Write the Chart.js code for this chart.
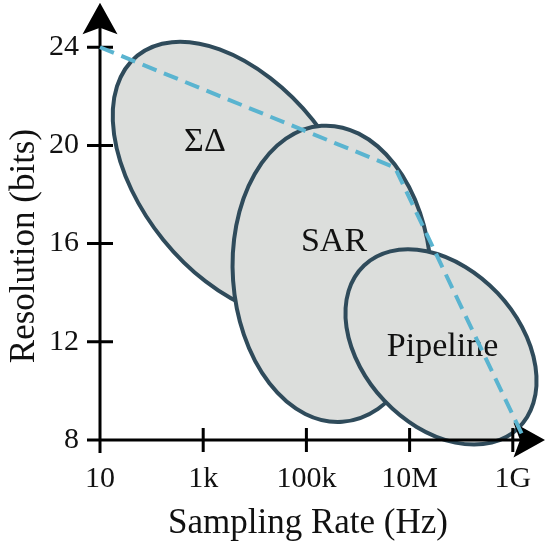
<!DOCTYPE html>
<html lang="en">
<head>
<meta charset="UTF-8">
<title>ADC architectures: resolution vs sampling rate</title>
<script src="https://cdn.jsdelivr.net/npm/chart.js@4"></script>
<style>
  html, body { margin: 0; padding: 0; background: #fff; }
  #wrap { width: 546px; height: 546px; position: relative; }
</style>
</head>
<body>
<div id="wrap"><canvas id="adcChart"></canvas></div>
<script>
// axis ticks
const xTicks = [10, 1e3, 1e5, 1e7, 1e9];
const xTickLabels = ['10', '1k', '100k', '10M', '1G'];
const yTicks = [8, 12, 16, 20, 24];

// ADC regions: ellipse centre and the ends of its two half-axes, in (Hz, bits)
const regionNames = ['ΣΔ', 'SAR', 'Pipeline'];
const regionCenter = [[4725, 18.6], [3.13e5, 14.77], [4.06e7, 11.79]];
const regionMajorEnd = [[53, 23.66], [1.97e5, 20.8], [1.31e6, 15.11]];
const regionMinorEnd = [[1.32e5, 21.05], [2.58e7, 15.05], [5.09e8, 13.98]];
const regionLabelAt = [[1.08e3, 20.14], [3.43e5, 16.05], [4.35e7, 11.77]];

// dashed boundary
const edgeRate = [10, 5.2e6, 1.7e9];
const edgeBits = [24, 19.1, 8];

const serif = "'Liberation Serif', 'Times New Roman', serif";

// no scale padding, fixed box sizes so the plot area lands where the figure has it
function fixBox(size) {
    return function(scale) {
        if (scale.isHorizontal()) scale.height = size; else scale.width = size;
        scale.paddingLeft = scale.paddingRight = scale.paddingTop = scale.paddingBottom = 0;
    };
}

const regionsPlugin = {
    id: 'regions',
    beforeDatasetsDraw(chart) {
        const {ctx, chartArea, scales: {x, y}} = chart;
        ctx.save();

        // ellipses
        ctx.fillStyle = '#dcdedc';
        ctx.strokeStyle = '#2f4b5b';
        ctx.lineWidth = 4;
        regionNames.forEach((name, i) => {
            const cx = x.getPixelForValue(regionCenter[i][0]);
            const cy = y.getPixelForValue(regionCenter[i][1]);
            const ux = x.getPixelForValue(regionMajorEnd[i][0]) - cx;
            const uy = y.getPixelForValue(regionMajorEnd[i][1]) - cy;
            const vx = x.getPixelForValue(regionMinorEnd[i][0]) - cx;
            const vy = y.getPixelForValue(regionMinorEnd[i][1]) - cy;
            ctx.save();
            ctx.transform(ux, uy, vx, vy, cx, cy);
            ctx.beginPath();
            ctx.arc(0, 0, 1, 0, Math.PI * 2);
            ctx.restore();
            ctx.fill();
            ctx.stroke();
        });

        // region names
        ctx.fillStyle = '#111';
        ctx.font = '34px ' + serif;
        ctx.textAlign = 'center';
        ctx.textBaseline = 'middle';
        regionNames.forEach((name, i) => {
            ctx.fillText(name, x.getPixelForValue(regionLabelAt[i][0]), y.getPixelForValue(regionLabelAt[i][1]));
        });

        // axes with arrows and crossing ticks
        const ax = x.getPixelForValue(xTicks[0]);
        const ay = y.getPixelForValue(yTicks[0]);
        ctx.strokeStyle = '#000';
        ctx.fillStyle = '#000';
        ctx.lineWidth = 3;
        ctx.beginPath();
        ctx.moveTo(ax, ay + 13);
        ctx.lineTo(ax, chartArea.top - 2);
        ctx.moveTo(ax - 13, ay);
        ctx.lineTo(chartArea.right - 18, ay);
        yTicks.forEach(v => {
            const py = y.getPixelForValue(v);
            ctx.moveTo(ax - 13, py);
            ctx.lineTo(ax + 13, py);
        });
        xTicks.forEach(v => {
            const px = x.getPixelForValue(v);
            ctx.moveTo(px, ay - 12);
            ctx.lineTo(px, ay + 12);
        });
        ctx.stroke();

        const tipY = chartArea.top - 20;
        ctx.beginPath();
        ctx.moveTo(ax, tipY);
        ctx.lineTo(ax + 17.5, tipY + 31.5);
        ctx.lineTo(ax, tipY + 25);
        ctx.lineTo(ax - 17.5, tipY + 31.5);
        ctx.closePath();
        ctx.fill();

        const tipX = chartArea.right + 6.4;
        ctx.beginPath();
        ctx.moveTo(tipX, ay);
        ctx.lineTo(tipX - 31.5, ay - 17.5);
        ctx.lineTo(tipX - 25, ay);
        ctx.lineTo(tipX - 31.5, ay + 17.5);
        ctx.closePath();
        ctx.fill();

        // axis titles
        ctx.fillStyle = '#111';
        ctx.font = '35px ' + serif;
        ctx.textAlign = 'center';
        ctx.textBaseline = 'middle';
        ctx.fillText('Sampling Rate (Hz)', 308, 524);
        ctx.translate(25, 246);
        ctx.rotate(-Math.PI / 2);
        ctx.fillText('Resolution (bits)', 0, 0);

        ctx.restore();
    }
};

const ctx = document.getElementById('adcChart').getContext('2d');
new Chart(ctx, {
    type: 'line',
    data: {
        datasets: [{
            label: 'Boundary',
            data: edgeRate.map((r, i) => ({x: r, y: edgeBits[i]})),
            borderColor: '#5ab4d0',
            borderWidth: 4,
            borderDash: [15, 8],
            borderCapStyle: 'butt',
            pointRadius: 0,
            fill: false,
            tension: 0,
            clip: false
        }]
    },
    options: {
        responsive: true,
        maintainAspectRatio: false,
        animation: false,
        devicePixelRatio: 1,
        layout: {padding: {top: 22.7, right: 7.4, left: 0, bottom: 0}},
        plugins: {
            legend: {display: false},
            tooltip: {enabled: false}
        },
        scales: {
            x: {
                type: 'logarithmic',
                min: 10,
                max: Math.pow(10, 9.5),
                grid: {display: false, drawTicks: false},
                border: {display: false},
                afterBuildTicks: s => { s.ticks = xTicks.map(v => ({value: v})); },
                afterFit: fixBox(106),
                ticks: {
                    autoSkip: false,
                    maxRotation: 0,
                    padding: 21,
                    color: '#111',
                    font: {family: serif, size: 30},
                    callback: (v, i) => xTickLabels[i]
                }
            },
            y: {
                type: 'linear',
                min: 8,
                max: 25,
                grid: {display: false, drawTicks: false},
                border: {display: false},
                afterBuildTicks: s => { s.ticks = yTicks.map(v => ({value: v})); },
                afterFit: fixBox(100),
                ticks: {
                    padding: 21,
                    color: '#111',
                    font: {family: serif, size: 30}
                }
            }
        }
    },
    plugins: [regionsPlugin]
});
</script>
</body>
</html>
